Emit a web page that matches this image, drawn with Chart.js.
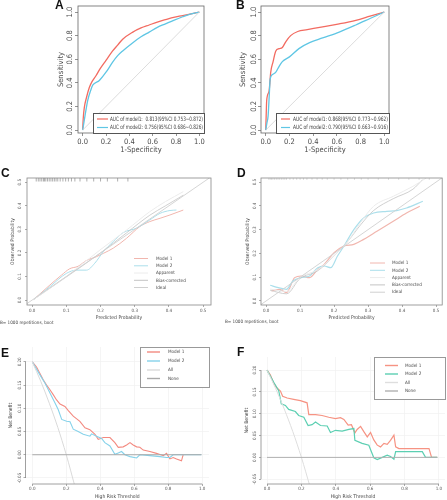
<!DOCTYPE html>
<html>
<head>
<meta charset="utf-8">
<script src="https://cdn.jsdelivr.net/npm/chart.js@4.4.1/dist/chart.umd.min.js"></script>
<style>
  html, body { margin: 0; padding: 0; background: #fff; }
  #wrap { position: relative; width: 447px; height: 500px; overflow: hidden; background: #fff; }
  #wrap canvas { position: absolute; left: 0; top: 0; }
  .tag { position: absolute; font: bold 12px "Liberation Sans", Arial, sans-serif; line-height: 12px; color: #111; }
</style>
</head>
<body>
<div id="wrap">
  <canvas id="cA" width="447" height="500"></canvas>
  <canvas id="cB" width="447" height="500"></canvas>
  <canvas id="cC" width="447" height="500"></canvas>
  <canvas id="cD" width="447" height="500"></canvas>
  <canvas id="cE" width="447" height="500"></canvas>
  <canvas id="cF" width="447" height="500"></canvas>
  <div class="tag" style="left:55px;top:-1px">A</div>
  <div class="tag" style="left:236px;top:-1px">B</div>
  <div class="tag" style="left:1px;top:167px">C</div>
  <div class="tag" style="left:237px;top:167px">D</div>
  <div class="tag" style="left:1px;top:347px">E</div>
  <div class="tag" style="left:237px;top:346px">F</div>
</div>
<script>
const FONT = '"Liberation Sans Narrow", "DejaVu Sans Condensed", "Liberation Sans", sans-serif';

// ---- tick values / labels
const rocTicks = [0, 0.2, 0.4, 0.6, 0.8, 1];
const rocTickLabels = ['0.0', '0.2', '0.4', '0.6', '0.8', '1.0'];
const calTicks = [0, 0.1, 0.2, 0.3, 0.4, 0.5];
const calTickLabels = ['0.0', '0.1', '0.2', '0.3', '0.4', '0.5'];
const dcaYTicks = [-0.05, 0, 0.05, 0.1, 0.15, 0.2];
const dcaYTickLabels = ['-0.05', '0.00', '0.05', '0.10', '0.15', '0.20'];

// ---- A: ROC  [1-specificity, sensitivity]
const rocA_m1 = [[0,0],[0.005,0.1],[0.014,0.19],[0.034,0.28],[0.057,0.36],[0.08,0.41],[0.114,0.46],[0.15,0.52],[0.2,0.59],[0.257,0.67],[0.3,0.72],[0.343,0.77],[0.43,0.83],[0.5,0.865],[0.57,0.89],[0.64,0.915],[0.71,0.935],[0.78,0.955],[0.857,0.97],[0.93,0.985],[1,1]];
const rocA_m2 = [[0,0],[0.02,0.12],[0.043,0.25],[0.07,0.34],[0.086,0.38],[0.143,0.42],[0.2,0.49],[0.257,0.575],[0.3,0.63],[0.343,0.67],[0.43,0.74],[0.5,0.79],[0.57,0.83],[0.64,0.87],[0.71,0.9],[0.78,0.93],[0.857,0.96],[0.93,0.985],[1,1]];
const rocA_labels = ['AUC of model1:  0.813(95%CI 0.753~0.872)', 'AUC of model2: 0.756(95%CI 0.686~0.826)'];

// ---- B: ROC
const rocB_m1 = [[0,0],[0.003,0.1],[0.008,0.25],[0.028,0.33],[0.042,0.49],[0.062,0.58],[0.085,0.67],[0.113,0.69],[0.14,0.7],[0.17,0.75],[0.21,0.8],[0.27,0.835],[0.35,0.85],[0.48,0.875],[0.62,0.9],[0.76,0.93],[0.88,0.965],[1,1]];
const rocB_m2 = [[0,0],[0.01,0.06],[0.02,0.12],[0.03,0.3],[0.037,0.43],[0.056,0.47],[0.085,0.49],[0.113,0.54],[0.14,0.58],[0.2,0.62],[0.28,0.69],[0.37,0.74],[0.48,0.78],[0.62,0.83],[0.76,0.89],[0.88,0.945],[1,1]];
const rocB_labels = ['AUC of model1: 0.868(95%CI 0.773~0.962)', 'AUC of model2: 0.790(95%CI 0.663~0.916)'];

const rocChance = [[0,0],[1,1]];

// ---- C: calibration [predicted, observed]
const calC_m1 = [[0.005,0.003],[0.052,0.064],[0.086,0.106],[0.11,0.133],[0.134,0.143],[0.159,0.168],[0.188,0.184],[0.208,0.198],[0.237,0.22],[0.276,0.262],[0.315,0.312],[0.344,0.333],[0.374,0.347],[0.403,0.361],[0.442,0.382]];
const calC_m2 = [[0.005,0.003],[0.052,0.057],[0.1,0.113],[0.13,0.127],[0.159,0.127],[0.183,0.156],[0.208,0.205],[0.237,0.248],[0.266,0.286],[0.305,0.305],[0.344,0.34],[0.374,0.368],[0.403,0.38],[0.422,0.382]];
const calC_app = [[0.005,0.003],[0.1,0.1],[0.198,0.212],[0.276,0.297],[0.344,0.375],[0.39,0.418],[0.442,0.46]];
const calC_bc = [[0.005,0.003],[0.1,0.098],[0.2,0.2],[0.276,0.285],[0.344,0.36],[0.39,0.4],[0.442,0.445]];
const calC_rug = [0.012,0.018,0.023,0.028,0.033,0.036,0.04,0.045,0.05,0.055,0.06,0.065,0.07,0.075,0.082,0.09,0.098,0.106,0.115,0.125,0.14,0.16,0.18,0.2,0.22,0.25,0.28];

// ---- D: calibration
const calD_m1 = [[0.016,0.042],[0.04,0.049],[0.06,0.035],[0.084,0.098],[0.103,0.105],[0.128,0.098],[0.152,0.133],[0.171,0.154],[0.2,0.203],[0.229,0.231],[0.258,0.238],[0.287,0.259],[0.326,0.293],[0.374,0.335],[0.413,0.37],[0.452,0.398]];
const calD_m2 = [[0.012,0.066],[0.036,0.056],[0.06,0.049],[0.079,0.084],[0.103,0.098],[0.128,0.105],[0.152,0.14],[0.171,0.147],[0.19,0.14],[0.21,0.189],[0.229,0.231],[0.258,0.3],[0.287,0.349],[0.316,0.37],[0.355,0.377],[0.384,0.38],[0.413,0.391],[0.461,0.419]];
const calD_app = [[0.012,0.05],[0.06,0.04],[0.1,0.1],[0.15,0.13],[0.2,0.19],[0.24,0.25],[0.278,0.33],[0.316,0.398],[0.374,0.44],[0.432,0.482],[0.471,0.517]];
const calD_bc = [[0.012,0.045],[0.06,0.03],[0.1,0.095],[0.15,0.125],[0.2,0.19],[0.24,0.25],[0.278,0.32],[0.316,0.38],[0.374,0.43],[0.432,0.47],[0.46,0.51]];
const calD_rug = [0.008,0.012,0.016,0.02,0.025,0.03,0.035,0.04,0.045,0.05,0.055,0.06,0.07,0.08,0.09,0.1,0.11,0.12,0.135,0.15,0.165,0.18,0.2,0.22,0.24,0.26,0.28,0.3,0.33,0.36,0.39,0.42,0.45,0.48];

const calIdeal = [[-0.05,-0.05],[0.6,0.6]];
const calLabels = ['Model 1', 'Model 2', 'Apparent', 'Bias-corrected', 'Ideal'];

// ---- E: decision curve [threshold, net benefit]
const dcaE_m1 = [[0,0.2],[0.025,0.189],[0.045,0.175],[0.065,0.161],[0.084,0.15],[0.104,0.14],[0.124,0.129],[0.143,0.118],[0.163,0.109],[0.192,0.104],[0.212,0.095],[0.241,0.083],[0.28,0.072],[0.31,0.058],[0.339,0.054],[0.369,0.044],[0.388,0.033],[0.418,0.037],[0.457,0.037],[0.486,0.026],[0.506,0.016],[0.535,0.017],[0.555,0.021],[0.575,0.026],[0.594,0.021],[0.614,0.017],[0.633,0.016],[0.653,0.01],[0.692,0.007],[0.731,0.003],[0.771,-0.002],[0.79,0.003],[0.81,-0.009],[0.829,-0.006],[0.849,-0.009],[0.878,-0.013],[0.888,0]];
const dcaE_m2 = [[0,0.2],[0.045,0.172],[0.075,0.154],[0.104,0.133],[0.133,0.112],[0.153,0.097],[0.173,0.076],[0.202,0.072],[0.222,0.071],[0.241,0.055],[0.27,0.05],[0.3,0.044],[0.339,0.04],[0.349,0.045],[0.378,0.04],[0.408,0.035],[0.427,0.026],[0.457,0.019],[0.486,0.001],[0.506,0.004],[0.525,0.007],[0.545,0],[0.575,-0.004],[0.614,-0.007],[0.633,0],[0.692,-0.002],[0.751,-0.004],[0.79,-0.006],[0.81,-0.006],[0.829,0],[0.995,0]];
const dcaE_all = [[0,0.2],[0.05,0.158],[0.1,0.111],[0.15,0.059],[0.2,0],[0.25,-0.067]];
const dcaE_none = [[0,0],[0.996,0]];

// ---- F: decision curve
const dcaF_m1 = [[0,0.2],[0.019,0.189],[0.039,0.17],[0.058,0.159],[0.078,0.152],[0.091,0.14],[0.117,0.136],[0.155,0.133],[0.194,0.13],[0.233,0.125],[0.243,0.098],[0.282,0.098],[0.32,0.096],[0.359,0.092],[0.398,0.089],[0.427,0.091],[0.447,0.087],[0.472,0.074],[0.491,0.075],[0.511,0.056],[0.524,0.064],[0.544,0.071],[0.563,0.059],[0.583,0.047],[0.602,0.057],[0.621,0.04],[0.641,0.028],[0.66,0.024],[0.68,0.032],[0.699,0.03],[0.718,0.039],[0.738,0.051],[0.748,0.024],[0.767,0.02],[0.942,0.02],[0.957,0],[0.99,0]];
const dcaF_m2 = [[0,0.2],[0.039,0.172],[0.068,0.153],[0.083,0.123],[0.107,0.119],[0.126,0.11],[0.165,0.105],[0.184,0.096],[0.214,0.092],[0.239,0.073],[0.262,0.075],[0.282,0.081],[0.311,0.073],[0.35,0.072],[0.369,0.057],[0.398,0.062],[0.437,0.06],[0.476,0.064],[0.505,0.066],[0.511,0.039],[0.553,0.032],[0.592,0.028],[0.621,-0.001],[0.641,-0.005],[0.67,0],[0.699,0.005],[0.718,0.002],[0.738,-0.004],[0.748,0.013],[0.903,0.013],[0.922,0],[0.99,0]];
const dcaF_all = [[0,0.2],[0.05,0.158],[0.1,0.111],[0.15,0.059],[0.2,0],[0.25,-0.067]];
const dcaF_none = [[0,0],[0.99,0]];
const dcaLabels = ['Model 1', 'Model 2', 'All', 'None'];

const pts = arr => arr.map(([x, y]) => ({ x, y }));

function line(label, data, color, width, tension) {
  return {
    type: 'line', label, data: pts(data), borderColor: color, borderWidth: width,
    pointRadius: 0, fill: false, tension: tension || 0,
    cubicInterpolationMode: tension ? 'monotone' : 'default'
  };
}

function rug(values, top, color, len) {
  return {
    type: 'scatter', label: '_rug', data: values.map(v => ({ x: v, y: top })),
    pointStyle: 'line', rotation: 90, pointRadius: len, borderColor: color,
    borderWidth: 0.8, backgroundColor: color
  };
}

// p: area (page px of plot region), ranges, ticks, fonts, legend, notes
function makePanel(id, p, datasets) {
  const W = 447, H = 500;
  const panelPlugin = {
    id: 'panel_' + id,
    afterDatasetsDraw(chart) {
      const { ctx, chartArea: a, scales: { x, y } } = chart;
      ctx.save();
      ctx.strokeStyle = p.axisColor;
      ctx.lineWidth = 0.8;
      if (p.box) {
        ctx.strokeRect(a.left, a.top, a.right - a.left, a.bottom - a.top);
      } else {
        const yt = y.ticks, xt = x.ticks;
        ctx.beginPath();
        ctx.moveTo(a.left, y.getPixelForValue(yt[0].value));
        ctx.lineTo(a.left, y.getPixelForValue(yt[yt.length - 1].value));
        ctx.moveTo(x.getPixelForValue(xt[0].value), a.bottom);
        ctx.lineTo(x.getPixelForValue(xt[xt.length - 1].value), a.bottom);
        ctx.stroke();
      }
      // y tick labels, parallel to the axis
      ctx.fillStyle = p.tickColor;
      ctx.font = p.tickSize + 'px ' + FONT;
      ctx.textAlign = 'center';
      ctx.textBaseline = 'middle';
      y.ticks.forEach((t, i) => {
        ctx.save();
        ctx.translate(a.left - p.yGap, y.getPixelForValue(t.value));
        ctx.rotate(-Math.PI / 2);
        ctx.fillText(p.yLabels[i], 0, 0);
        ctx.restore();
      });
      // legend
      const lg = p.legend;
      if (lg.box) {
        ctx.fillStyle = '#fff';
        ctx.fillRect(lg.box[0], lg.box[1], lg.box[2], lg.box[3]);
        ctx.strokeStyle = lg.boxColor;
        ctx.lineWidth = 1;
        ctx.strokeRect(lg.box[0] + 0.5, lg.box[1] + 0.5, lg.box[2], lg.box[3]);
      }
      ctx.font = lg.size + 'px ' + FONT;
      ctx.textAlign = 'left';
      ctx.textBaseline = 'middle';
      lg.labels.forEach((lab, i) => {
        const ds = chart.data.datasets.find(d => d.label === lab);
        ctx.strokeStyle = ds.borderColor;
        ctx.lineWidth = lg.lineWidth;
        ctx.beginPath();
        ctx.moveTo(lg.x0, lg.rows[i]);
        ctx.lineTo(lg.x1, lg.rows[i]);
        ctx.stroke();
        ctx.fillStyle = lg.color;
        ctx.fillText(lab, lg.tx, lg.rows[i], lg.maxW);
      });
      if (p.note) {
        ctx.font = p.note.size + 'px ' + FONT;
        ctx.fillStyle = '#444';
        ctx.fillText(p.note.text, p.note.x, p.note.y);
      }
      ctx.restore();
    }
  };

  const scaleCommon = (axis) => {
    const isX = axis === 'x';
    return {
      type: 'linear',
      min: isX ? p.xMin : p.yMin,
      max: isX ? p.xMax : p.yMax,
      afterBuildTicks: s => { s.ticks = (isX ? p.xTicks : p.yTicks).map(v => ({ value: v })); },
      afterFit: s => {
        if (isX) { s.height = p.xH; } else { s.width = p.yW; }
        s.paddingLeft = 0; s.paddingRight = 0; s.paddingTop = 0; s.paddingBottom = 0;
      },
      border: { display: false },
      grid: {
        display: true, drawOnChartArea: !!p.grid, color: p.gridColor || '#eee',
        tickColor: p.axisColor, tickLength: p.tickLen, lineWidth: 0.7
      },
      ticks: {
        autoSkip: false, maxRotation: 0, minRotation: 0,
        padding: isX ? p.xPad : 0,
        color: p.tickColor,
        font: { family: FONT, size: p.tickSize },
        callback: (v, i) => isX ? p.xLabels[i] : ''
      },
      title: {
        display: true, text: isX ? p.xTitle : p.yTitle, color: p.titleColor,
        font: { family: FONT, size: p.titleSize }, padding: 0
      }
    };
  };

  return new Chart(document.getElementById(id), {
    type: 'line',
    data: { datasets },
    options: {
      responsive: false,
      animation: false,
      events: [],
      layout: {
        padding: {
          left: p.area[0] - p.yW, top: p.area[1],
          right: W - p.area[2], bottom: H - p.area[3] - p.xH
        }
      },
      plugins: { legend: { display: false }, tooltip: { enabled: false } },
      scales: { x: scaleCommon('x'), y: scaleCommon('y') }
    },
    plugins: [panelPlugin]
  });
}

// ---------- A
makePanel('cA', {
  area: [78, 6, 204, 133], xMin: -0.04, xMax: 1.04, yMin: -0.025, yMax: 1.051,
  xTicks: rocTicks, yTicks: rocTicks, xLabels: rocTickLabels, yLabels: rocTickLabels,
  yW: 21, xH: 22, xPad: 2, yGap: 8, tickLen: 3, tickSize: 7.5, tickColor: '#4a4a4a', axisColor: '#666',
  titleSize: 7.5, titleColor: '#4a4a4a', xTitle: '1-Specificity', yTitle: 'Sensitivity', box: true,
  legend: { box: [93, 113, 111, 20], boxColor: '#555', x0: 97, x1: 108, tx: 110, rows: [119, 127.5], size: 6, maxW: 93,
            lineWidth: 1.2, color: '#444', labels: rocA_labels }
}, [
  line('chance', rocChance, '#d3d3d3', 0.8),
  line(rocA_labels[1], rocA_m2, '#5fc6e4', 1.3, 0.4),
  line(rocA_labels[0], rocA_m1, '#f26b61', 1.3, 0.4)
]);

// ---------- B
makePanel('cB', {
  area: [261, 6, 389, 133], xMin: -0.04, xMax: 1.04, yMin: -0.025, yMax: 1.051,
  xTicks: rocTicks, yTicks: rocTicks, xLabels: rocTickLabels, yLabels: rocTickLabels,
  yW: 22, xH: 22, xPad: 2, yGap: 7, tickLen: 3, tickSize: 7.5, tickColor: '#4a4a4a', axisColor: '#666',
  titleSize: 7.5, titleColor: '#4a4a4a', xTitle: '1-Specificity', yTitle: 'Sensitivity', box: true,
  legend: { box: [276, 113, 113, 20], boxColor: '#555', x0: 281, x1: 290, tx: 293, rows: [119, 127.5], size: 6, maxW: 95,
            lineWidth: 1.2, color: '#444', labels: rocB_labels }
}, [
  line('chance', rocChance, '#d3d3d3', 0.8),
  line(rocB_labels[1], rocB_m2, '#5fc6e4', 1.3, 0.4),
  line(rocB_labels[0], rocB_m1, '#f26b61', 1.3, 0.4)
]);

// ---------- C
makePanel('cC', {
  area: [27, 178, 211, 305], xMin: -0.015, xMax: 0.523, yMin: -0.021, yMax: 0.518,
  xTicks: calTicks, yTicks: calTicks, xLabels: calTickLabels, yLabels: calTickLabels,
  yW: 17, xH: 16, xPad: 1.5, yGap: 7.5, tickLen: 2, tickSize: 4.5, tickColor: '#555', axisColor: '#888',
  titleSize: 5, titleColor: '#444', xTitle: 'Predicted Probability', yTitle: 'Observed Probability', box: true,
  legend: { x0: 134, x1: 148, tx: 156, rows: [258.5, 265.8, 273, 280.3, 287.5], size: 4.6,
            lineWidth: 1, color: '#444', labels: calLabels },
  note: { text: 'B= 1000 repetitions, boot', x: 0, y: 323, size: 4.6 }
}, [
  line('Ideal', calIdeal, '#d0d0d0', 0.9),
  line('Apparent', calC_app, '#ececec', 1, 0.4),
  line('Bias-corrected', calC_bc, '#c4c4c4', 0.8, 0.4),
  line('Model 2', calC_m2, '#abdfeb', 1, 0.4),
  line('Model 1', calC_m1, '#f1b6ae', 1, 0.4),
  rug(calC_rug, 0.518, '#9a9a9a', 3.5)
]);

// ---------- D
makePanel('cD', {
  area: [261, 178, 445, 305], xMin: -0.015, xMax: 0.518, yMin: -0.017, yMax: 0.517,
  xTicks: calTicks, yTicks: calTicks, xLabels: calTickLabels, yLabels: calTickLabels,
  yW: 16, xH: 16, xPad: 1.5, yGap: 6.5, tickLen: 2, tickSize: 4.5, tickColor: '#555', axisColor: '#888',
  titleSize: 5, titleColor: '#444', xTitle: 'Predicted Probability', yTitle: 'Observed Probability', box: true,
  legend: { x0: 370, x1: 385, tx: 392, rows: [263, 270.3, 277.6, 284.9, 292.2], size: 4.6,
            lineWidth: 1, color: '#444', labels: calLabels },
  note: { text: 'B= 1000 repetitions, boot', x: 225, y: 322, size: 4.6 }
}, [
  line('Ideal', calIdeal, '#d0d0d0', 0.9),
  line('Apparent', calD_app, '#ececec', 1, 0.4),
  line('Bias-corrected', calD_bc, '#c4c4c4', 0.8, 0.4),
  line('Model 2', calD_m2, '#abdfeb', 1.2, 0.4),
  line('Model 1', calD_m1, '#f1b6ae', 1.2, 0.4),
  rug(calD_rug, 0.517, '#d8d8d8', 2)
]);

// ---------- E
makePanel('cE', {
  area: [25.5, 347, 209, 484], xMin: -0.04, xMax: 1.04, yMin: -0.063, yMax: 0.232,
  xTicks: rocTicks, yTicks: dcaYTicks, xLabels: rocTickLabels, yLabels: dcaYTickLabels,
  yW: 17.5, xH: 16, xPad: 0.5, yGap: 6, tickLen: 2, tickSize: 4.5, tickColor: '#555', axisColor: '#888',
  titleSize: 5, titleColor: '#444', xTitle: 'High Risk Threshold', yTitle: 'Net Benefit', box: false,
  grid: true, gridColor: '#f1f1f1',
  legend: { box: [140, 347, 69, 40], boxColor: '#999', x0: 147, x1: 160, tx: 168, rows: [352, 361, 370, 378.5], size: 4.6,
            lineWidth: 1.4, color: '#444', labels: dcaLabels }
}, [
  line('None', dcaE_none, '#a9a9a9', 1),
  line('All', dcaE_all, '#dadada', 1, 0.3),
  line('Model 2', dcaE_m2, '#86d2ea', 1.1),
  line('Model 1', dcaE_m1, '#f38a80', 1.1)
]);

// ---------- F
makePanel('cF', {
  area: [261, 357, 445, 484], xMin: -0.035, xMax: 1.035, yMin: -0.061, yMax: 0.23,
  xTicks: rocTicks, yTicks: dcaYTicks, xLabels: rocTickLabels, yLabels: dcaYTickLabels,
  yW: 17, xH: 16, xPad: 0.5, yGap: 6.5, tickLen: 2, tickSize: 4.5, tickColor: '#555', axisColor: '#888',
  titleSize: 5, titleColor: '#444', xTitle: 'High Risk Threshold', yTitle: 'Net Benefit', box: false,
  grid: true, gridColor: '#f1f1f1',
  legend: { box: [374, 357, 71, 42], boxColor: '#999', x0: 385, x1: 398, tx: 405, rows: [365.5, 374, 382.5, 391], size: 4.6,
            lineWidth: 1.4, color: '#444', labels: dcaLabels }
}, [
  line('None', dcaF_none, '#b0b0b0', 1),
  line('All', dcaF_all, '#dedede', 1, 0.3),
  line('Model 2', dcaF_m2, '#5ccfb2', 1.2),
  line('Model 1', dcaF_m1, '#f69383', 1.2)
]);
</script>
</body>
</html>
